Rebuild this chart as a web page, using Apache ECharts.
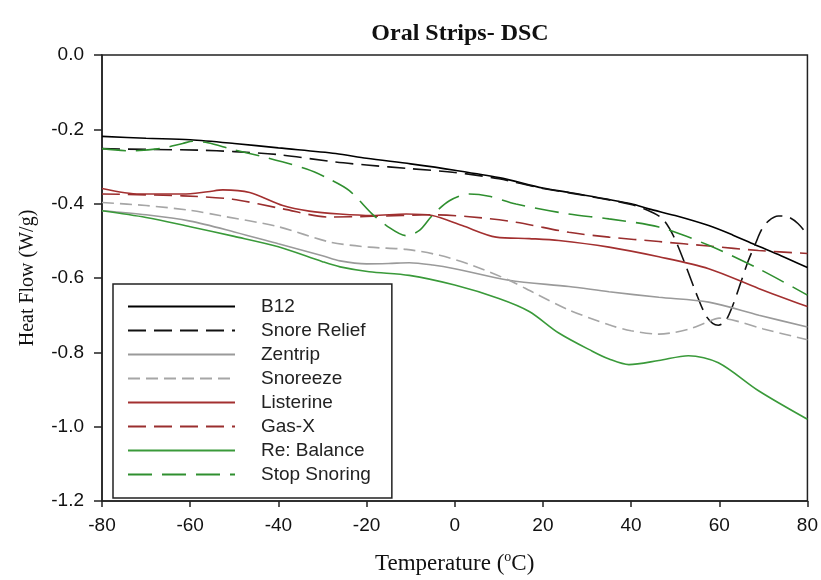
<!DOCTYPE html>
<html>
<head>
<meta charset="utf-8">
<title>Oral Strips- DSC</title>
<script src="https://cdn.jsdelivr.net/npm/echarts@6/dist/echarts.min.js"></script>
<style>
  html, body { margin: 0; padding: 0; background: #fff; }
  #chart { width: 821px; height: 580px; }
</style>
</head>
<body>
<div id="chart"></div>
<script>
// DSC heat flow traces (W/g) versus temperature (°C) for eight oral strips.
const xTicks = [-80, -60, -40, -20, 0, 20, 40, 60, 80];
const yTicks = [0.0, -0.2, -0.4, -0.6, -0.8, -1.0, -1.2];

const seriesNames = ['B12', 'Snore Relief', 'Zentrip', 'Snoreeze', 'Listerine', 'Gas-X', 'Re: Balance', 'Stop Snoring'];

const b12T = [-80, -70, -60, -50, -40, -27, -20, -10, 0, 10, 20, 26, 40, 44, 50, 57.6, 63, 68, 74, 80];
const b12V = [-0.219, -0.224, -0.228, -0.238, -0.250, -0.265, -0.278, -0.293, -0.310, -0.330, -0.358, -0.370, -0.400, -0.414, -0.432, -0.459, -0.484, -0.510, -0.540, -0.572];

const snoreReliefT = [-80, -70, -58, -50, -40, -27, -20, -10, 0, 10, 20, 26, 40, 45.1, 47.4, 49.7, 52.4, 54.6, 56.9, 58.5, 59.8, 61.4, 63.0, 64.8, 66.6, 68.2, 69.6, 71.2, 73.4, 75.7, 77.9, 79.8];
const snoreReliefV = [-0.252, -0.254, -0.256, -0.260, -0.268, -0.288, -0.296, -0.306, -0.316, -0.333, -0.359, -0.371, -0.402, -0.425, -0.444, -0.489, -0.567, -0.636, -0.700, -0.722, -0.727, -0.716, -0.676, -0.615, -0.553, -0.508, -0.470, -0.446, -0.433, -0.436, -0.454, -0.481];

const zentripT = [-80, -70, -60, -50, -40, -30, -26, -20, -15, -10.3, -5, 0, 12.3, 25.9, 35, 46.3, 57.6, 69, 80];
const zentripV = [-0.419, -0.430, -0.447, -0.476, -0.508, -0.540, -0.554, -0.562, -0.561, -0.559, -0.565, -0.575, -0.606, -0.623, -0.637, -0.652, -0.665, -0.700, -0.732];

const snoreezeT = [-80, -70, -60, -53.3, -40, -28.4, -19.4, -11, -3.4, 4, 12.3, 18, 25.9, 35, 40, 46.3, 50, 53.8, 57, 60, 64, 70, 80];
const snoreezeV = [-0.397, -0.405, -0.418, -0.432, -0.462, -0.503, -0.517, -0.523, -0.539, -0.566, -0.606, -0.640, -0.686, -0.726, -0.742, -0.751, -0.746, -0.735, -0.720, -0.708, -0.716, -0.737, -0.766];

const listerineT = [-80, -71.4, -61.7, -56, -52.6, -46.5, -39, -33, -26.1, -18.7, -11, -5.1, 1.7, 9.4, 16.9, 23.6, 35, 46.3, 57.6, 68.9, 80];
const listerineV = [-0.359, -0.374, -0.374, -0.368, -0.363, -0.370, -0.405, -0.420, -0.428, -0.432, -0.428, -0.432, -0.459, -0.490, -0.494, -0.499, -0.517, -0.543, -0.575, -0.628, -0.677];

const gasXT = [-80, -61.7, -50.4, -39, -28.4, -18.7, -5.1, 3.3, 13.9, 25.9, 35, 46.3, 57.6, 68.9, 80];
const gasXV = [-0.374, -0.379, -0.388, -0.414, -0.436, -0.434, -0.430, -0.435, -0.450, -0.477, -0.490, -0.502, -0.514, -0.526, -0.534];

const reBalanceT = [-80, -70, -60, -50, -40, -30, -26, -19.4, -10.3, 0, 10, 16.9, 23.6, 31.2, 35, 39.5, 46.3, 53, 59.8, 69, 80];
const reBalanceV = [-0.419, -0.437, -0.462, -0.488, -0.516, -0.556, -0.570, -0.583, -0.593, -0.619, -0.655, -0.690, -0.748, -0.797, -0.818, -0.833, -0.822, -0.809, -0.828, -0.904, -0.980];

const stopSnoringT = [-80, -73.7, -66.9, -61.7, -59.4, -56, -50.4, -42.7, -33.6, -28.4, -23.9, -18.7, -15.5, -11, -8, -5.1, -1.2, 3.3, 7.8, 13.9, 25.9, 35, 46.3, 57.6, 68.9, 80];
const stopSnoringV = [-0.252, -0.258, -0.252, -0.238, -0.232, -0.236, -0.254, -0.276, -0.307, -0.334, -0.365, -0.428, -0.459, -0.486, -0.472, -0.432, -0.392, -0.374, -0.380, -0.401, -0.428, -0.441, -0.463, -0.512, -0.575, -0.646];

const seriesT = [b12T, snoreReliefT, zentripT, snoreezeT, listerineT, gasXT, reBalanceT, stopSnoringT];
const seriesV = [b12V, snoreReliefV, zentripV, snoreezeV, listerineV, gasXV, reBalanceV, stopSnoringV];

// line appearance per trace
const lineColors = ['#000000', '#111111', '#9a9a9a', '#a6a6a6', '#a33030', '#9a2e2e', '#3a9a3a', '#2f8f2f'];
const lineTypes = ['solid', [18, 8], 'solid', [12, 6], 'solid', [18, 8], 'solid', [24, 10]];

const chart = echarts.init(document.getElementById('chart'), null, { renderer: 'canvas' });

const series = seriesNames.map((name, i) => ({
  name: name,
  type: 'line',
  data: seriesT[i].map((t, k) => [t, seriesV[i][k]]),
  symbol: 'none',
  smooth: 0.3,
  lineStyle: { color: lineColors[i], width: 1.6, type: lineTypes[i] },
  itemStyle: { color: lineColors[i] },
  emphasis: { disabled: true },
  animation: false
}));

const serif = '"Liberation Serif", "Times New Roman", serif';
const sans = '"Liberation Sans", Arial, sans-serif';

chart.setOption({
  backgroundColor: '#ffffff',
  animation: false,
  title: {
    text: 'Oral Strips- DSC',
    left: 455,
    top: 17,
    textAlign: 'center',
    textStyle: { fontFamily: serif, fontWeight: 'bold', fontSize: 24, color: '#111' }
  },
  grid: {
    left: 102, right: 12, top: 55, bottom: 76,
    show: true, borderColor: '#222', borderWidth: 1.5, backgroundColor: 'transparent'
  },
  legend: {
    data: seriesNames,
    orient: 'vertical',
    left: 113,
    top: 284,
    itemWidth: 107,
    itemHeight: 14,
    itemGap: 5,
    padding: [13, 21, 14, 14],
    borderColor: '#222',
    borderWidth: 1.5,
    backgroundColor: '#fff',
    selectedMode: false,
    itemStyle: { opacity: 0, borderWidth: 0 },
    textStyle: { fontFamily: sans, fontSize: 19, color: '#222', padding: [0, 0, 0, 21] }
  },
  xAxis: {
    type: 'value',
    min: xTicks[0],
    max: xTicks[xTicks.length - 1],
    interval: 20,
    name: '{a|Temperature (}{s|o}{a|C)}',
    nameLocation: 'middle',
    nameGap: 49,
    nameTextStyle: {
      rich: {
        a: { fontFamily: serif, fontSize: 23, color: '#111', lineHeight: 27 },
        s: { fontFamily: serif, fontSize: 14, color: '#111', verticalAlign: 'top', lineHeight: 27, padding: [0, 0, 10, 0] }
      }
    },
    axisLine: { show: true, onZero: false, lineStyle: { color: '#222', width: 1.5 } },
    axisTick: { show: true, inside: false, length: 6, lineStyle: { color: '#222', width: 1.5 } },
    axisLabel: { fontFamily: sans, fontSize: 19, color: '#111', margin: 15 },
    splitLine: { show: false }
  },
  yAxis: {
    type: 'value',
    min: yTicks[yTicks.length - 1],
    max: yTicks[0],
    interval: 0.2,
    name: 'Heat Flow (W/g)',
    nameLocation: 'middle',
    nameGap: 64,
    nameTextStyle: { fontFamily: serif, fontSize: 20, color: '#111' },
    axisLine: { show: true, onZero: false, lineStyle: { color: '#222', width: 1.5 } },
    axisTick: { show: true, inside: false, length: 8, lineStyle: { color: '#222', width: 1.5 } },
    axisLabel: { fontFamily: sans, fontSize: 19, color: '#111', margin: 18, formatter: v => v.toFixed(1) },
    splitLine: { show: false }
  },
  series: series
});
</script>
</body>
</html>
